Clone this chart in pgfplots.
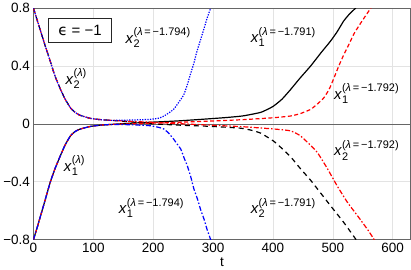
\documentclass[border=0pt]{standalone}
\usepackage{pgfplots}
\pgfplotsset{compat=1.18}
\usepackage{fontspec}
\setmainfont{Liberation Sans}
\newfontfamily\dejavu{DejaVu Sans}
\newcommand{\lbl}[2]{$\mbox{\textit{x}}^{\mbox{\fontsize{11}{11}\selectfont(\textit{λ}\,=\,#2)}}_{\mbox{\fontsize{11}{11}\selectfont #1}}$}
\newcommand{\lbs}[1]{$\mbox{\textit{x}}^{\mbox{\fontsize{11}{11}\selectfont(\textit{λ})}}_{\mbox{\fontsize{11}{11}\selectfont #1}}$}
\begin{document}
\begin{tikzpicture}
\begin{axis}[
  scale only axis, width=378pt, height=232pt,
  xmin=0, xmax=630, ymin=-0.8, ymax=0.8,
  xtick={0,100,200,300,400,500,600},
  ytick={-0.8,-0.4,0,0.4,0.8},
  yticklabels={−0.8,−0.4,0,0.4,0.8},
  /pgf/number format/assume math mode=true,
  ticklabel style={font=\fontsize{13.5}{14}\selectfont},
  major tick length=0pt,
  grid=major, grid style={gray!22, line width=0.6pt},
  axis line style={draw=gray!80!black, line width=0.7pt},
  xlabel={t}, xlabel style={font=\fontsize{13.5}{14}\selectfont, yshift=2pt},
  clip=true,
  every axis plot/.append style={line width=1.2pt},
]
\addplot[gray!80!black, line width=0.7pt] coordinates {(0,0) (630,0)};
% x1, lambda=-1.791 (black solid)
\addplot[black, solid, smooth, tension=0.3] coordinates {
(0,-0.8) (6,-0.72) (12,-0.634) (20,-0.52) (28,-0.404) (36,-0.31) (45,-0.22) (53,-0.145) (62,-0.082) (70,-0.052) (78,-0.036) (95,-0.018) (110,-0.010) (130,-0.004)
(160,0.004) (200,0.012) (240,0.02) (280,0.031) (320,0.043) (350,0.055) (380,0.08) (400,0.12) (415,0.17) (429,0.235) (445,0.315) (463,0.40) (480,0.49) (496,0.571) (507,0.635) (518,0.71) (528,0.76) (538,0.80) (545,0.84)};
% x2, lambda=-1.791 (black dashed)
\addplot[black, dash pattern=on 5pt off 4pt, smooth, tension=0.3] coordinates {
(0,0.8) (6,0.72) (12,0.64) (20,0.535) (28,0.434) (36,0.33) (45,0.24) (53,0.17) (62,0.11) (70,0.078) (78,0.059) (95,0.038) (110,0.03) (130,0.024)
(160,0.015) (200,0.0) (250,-0.01) (300,-0.018) (346,-0.03) (365,-0.045) (380,-0.065) (401,-0.119) (415,-0.17) (430,-0.23) (446,-0.31) (463,-0.39) (480,-0.48) (496,-0.565) (518,-0.68) (538,-0.795) (542,-0.82)};
% x1, lambda=-1.792 (red dashed)
\addplot[red, dash pattern=on 4pt off 2.5pt, smooth, tension=0.3] coordinates {
(0,-0.8) (6,-0.72) (12,-0.634) (20,-0.52) (28,-0.404) (36,-0.31) (45,-0.22) (53,-0.145) (62,-0.082) (70,-0.052) (78,-0.036) (95,-0.018) (110,-0.010) (130,-0.004)
(160,0.0) (200,0.005) (250,0.012) (300,0.02) (350,0.029) (400,0.042) (429,0.054) (445,0.07) (463,0.10) (475,0.14) (485,0.18) (494,0.24) (502,0.318) (510,0.40) (518,0.475) (527,0.55) (535,0.62) (544,0.68) (552,0.73) (565,0.81) (568,0.83)};
% x2, lambda=-1.792 (red dash-dot)
\addplot[red, dash pattern=on 5pt off 2pt on 1.5pt off 2pt, smooth, tension=0.3] coordinates {
(0,0.8) (6,0.72) (12,0.64) (20,0.535) (28,0.434) (36,0.33) (45,0.24) (53,0.17) (62,0.11) (70,0.078) (78,0.059) (95,0.038) (110,0.03) (130,0.024)
(160,0.018) (200,0.01) (250,0.0) (300,-0.01) (350,-0.02) (400,-0.035) (429,-0.048) (445,-0.08) (457,-0.125) (474,-0.197) (491,-0.31) (507,-0.427) (524,-0.54) (541,-0.634) (558,-0.73) (566,-0.78) (572,-0.82)};
% x1, lambda=-1.794 (blue dash-dot)
\addplot[blue, dash pattern=on 5pt off 2pt on 1.5pt off 2pt, smooth, tension=0.3] coordinates {
(0,-0.8) (6,-0.72) (12,-0.634) (20,-0.52) (28,-0.404) (36,-0.31) (45,-0.22) (53,-0.145) (62,-0.082) (70,-0.052) (78,-0.036) (95,-0.018) (110,-0.010) (130,-0.004)
(160,-0.006) (195,-0.013) (210,-0.025) (218,-0.036) (226,-0.065) (234,-0.105) (240,-0.14) (246,-0.174) (252,-0.24) (257,-0.29) (263,-0.37) (268,-0.45) (274,-0.52) (279,-0.59) (285,-0.66) (290,-0.73) (296,-0.80) (298,-0.83)};
% x2, lambda=-1.794 (blue dotted)
\addplot[blue, dash pattern=on 1.3pt off 1.3pt, smooth, tension=0.3] coordinates {
(0,0.8) (6,0.72) (12,0.64) (20,0.535) (28,0.434) (36,0.33) (45,0.24) (53,0.17) (62,0.11) (70,0.078) (78,0.059) (95,0.038) (110,0.03) (130,0.024)
(160,0.026) (195,0.031) (210,0.04) (218,0.054) (226,0.075) (234,0.10) (242,0.145) (251,0.20) (257,0.27) (262,0.34) (268,0.42) (273,0.50) (279,0.58) (285,0.66) (290,0.73) (296,0.80) (299,0.84)};

\begin{scope}[every node/.style={font=\fontsize{15}{18}\selectfont, inner sep=0pt, anchor=base west}]
\node at (axis cs:153.7,0.558) {\lbl{2}{−1.794}};
\node at (axis cs:53.5,0.275) {\lbs{2}};
\node at (axis cs:362.6,0.561) {\lbl{1}{−1.791}};
\node at (axis cs:501.8,0.171) {\lbl{1}{−1.792}};
\node at (axis cs:50.6,-0.326) {\lbs{1}};
\node at (axis cs:142.5,-0.62) {\lbl{1}{−1.794}};
\node at (axis cs:501.8,-0.222) {\lbl{2}{−1.792}};
\node at (axis cs:362.6,-0.62) {\lbl{2}{−1.791}};
\end{scope}
\node[draw=black!85, line width=0.9pt, fill=white, minimum width=63pt, minimum height=24pt, inner sep=0pt, font=\fontsize{15}{18}\selectfont] at (axis cs:77.7,0.647) {{\dejavu ϵ} = −1};
\end{axis}
\end{tikzpicture}
\end{document}
